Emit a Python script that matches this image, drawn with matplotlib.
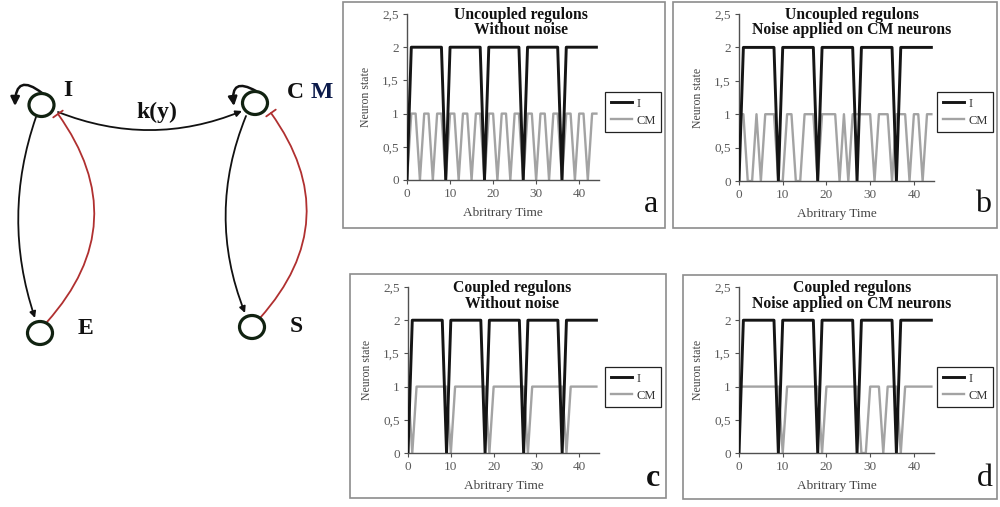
import matplotlib
matplotlib.use('Agg')
import matplotlib.pyplot as plt
from matplotlib.patches import Rectangle, Ellipse, FancyArrowPatch

# ---------------- data ----------------
time = [0, 1, 2, 3, 4, 5, 6, 7, 8, 9, 10, 11, 12, 13, 14, 15, 16, 17, 18, 19, 20, 21,
        22, 23, 24, 25, 26, 27, 28, 29, 30, 31, 32, 33, 34, 35, 36, 37, 38, 39, 40, 41, 42, 43, 44]

I_state = [0, 2, 2, 2, 2, 2, 2, 2, 2, 0, 2, 2, 2, 2, 2, 2, 2, 2, 0, 2, 2, 2,
           2, 2, 2, 2, 2, 0, 2, 2, 2, 2, 2, 2, 2, 2, 0, 2, 2, 2, 2, 2, 2, 2, 2]

cm_a = [0, 1, 1, 0, 1, 1, 0, 1, 1, 0, 1, 1, 0, 1, 1, 0, 1, 1, 0, 1, 1, 0,
        1, 1, 0, 1, 1, 0, 1, 1, 0, 1, 1, 0, 1, 1, 0, 1, 1, 0, 1, 1, 0, 1, 1]

cm_b = [1, 1, 0, 0, 1, 0, 1, 1, 1, 0, 0, 1, 1, 0, 0, 1, 1, 1, 0, 1, 1, 1,
        1, 0, 1, 0, 1, 1, 1, 1, 1, 0, 1, 1, 1, 0, 1, 1, 1, 0, 1, 1, 0, 1, 1]

cm_c = [1, 0, 1, 1, 1, 1, 1, 1, 1, 1, 0, 1, 1, 1, 1, 1, 1, 1, 1, 0, 1, 1,
        1, 1, 1, 1, 1, 1, 0, 1, 1, 1, 1, 1, 1, 1, 1, 0, 1, 1, 1, 1, 1, 1, 1]

cm_d = [1, 1, 1, 1, 1, 1, 1, 1, 1, 1, 0, 1, 1, 1, 1, 1, 1, 1, 1, 0, 1, 1,
        1, 1, 1, 1, 1, 1, 0, 0, 1, 1, 1, 0, 1, 1, 1, 0, 1, 1, 1, 1, 1, 1, 1]

titles = ["Uncoupled regulons\nWithout noise",
          "Uncoupled regulons\nNoise applied on CM neurons",
          "Coupled regulons\nWithout noise",
          "Coupled regulons\nNoise applied on CM neurons"]
letters = ["a", "b", "c", "d"]
series_labels = ["I", "CM"]
x_ticks = [0, 10, 20, 30, 40]
y_ticks = [0, 0.5, 1, 1.5, 2, 2.5]
y_tick_labels = ["0", "0,5", "1", "1,5", "2", "2,5"]
x_label = "Abritrary Time"
y_label = "Neuron state"

# ---------------- figure ----------------
W, H = 1000, 507
fig = plt.figure(figsize=(W / 100, H / 100), dpi=100)
SERIF = ["Liberation Serif", "DejaVu Serif"]

bg = fig.add_axes([0, 0, 1, 1])
bg.set_xlim(0, W)
bg.set_ylim(H, 0)
bg.axis('off')


def fpos(x0, x1, y0, y1):
    return [x0 / W, 1 - y1 / H, (x1 - x0) / W, (y1 - y0) / H]


layout = [
    dict(frame=(343, 2, 665, 228), ax=(407, 599, 14, 180), leg=(605, 92), tx=521, ty=(15, 30),
         letter_xy=(651, 205), bold=False),
    dict(frame=(673, 2, 997, 228), ax=(739, 934, 14, 181), leg=(937, 92), tx=852, ty=(15, 30),
         letter_xy=(983, 205), bold=False),
    dict(frame=(350, 274, 666, 498), ax=(408, 599, 287, 453), leg=(605, 367), tx=512, ty=(288, 304),
         letter_xy=(653, 479), bold=True),
    dict(frame=(683, 275, 997, 499), ax=(739, 934, 287, 453), leg=(937, 367), tx=852, ty=(288, 304),
         letter_xy=(985, 479), bold=False),
]
cms = [cm_a, cm_b, cm_c, cm_d]

for i, L in enumerate(layout):
    fx0, fy0, fx1, fy1 = L['frame']
    bg.add_patch(Rectangle((fx0, fy0), fx1 - fx0, fy1 - fy0, fill=False,
                           edgecolor='#8c8c8c', lw=1.2))
    ax = fig.add_axes(fpos(*L['ax']))
    ax.patch.set_alpha(0)
    l1, = ax.plot(time, I_state, color='#151515', lw=2.1, label=series_labels[0], zorder=3)
    l2, = ax.plot(time, cms[i], color='#a3a3a3', lw=1.7, label=series_labels[1], zorder=2)
    ax.set_xlim(0, 44.6)
    ax.set_ylim(0, 2.5)
    ax.set_xticks(x_ticks)
    ax.set_yticks(y_ticks)
    ax.set_yticklabels(y_tick_labels)
    for s in ['top', 'right']:
        ax.spines[s].set_visible(False)
    for s in ['left', 'bottom']:
        ax.spines[s].set_color('#505050')
        ax.spines[s].set_linewidth(1.0)
    ax.tick_params(axis='both', direction='out', length=3, width=0.8, color='#505050',
                   labelcolor='#5a5a5a', labelsize=9.5, pad=3)
    for lab in ax.get_xticklabels() + ax.get_yticklabels():
        lab.set_family(SERIF)
    ax.set_xlabel(x_label, family=SERIF, fontsize=9.5, color='#444444', labelpad=5)
    ax.set_ylabel(y_label, family=SERIF, fontsize=8.5, color='#444444', labelpad=7)
    # title lines
    t1, t2 = titles[i].split("\n")
    bg.text(L['tx'], L['ty'][0], t1, ha='center', va='center', family=SERIF,
            fontweight='bold', fontsize=11.3, color='#111111')
    bg.text(L['tx'], L['ty'][1], t2, ha='center', va='center', family=SERIF,
            fontweight='bold', fontsize=11.3, color='#111111')
    # legend
    lx, ly = L['leg']
    leg = ax.legend(handles=[l1, l2], loc='upper left',
                    bbox_to_anchor=(lx / W, 1 - ly / H), bbox_transform=fig.transFigure,
                    borderaxespad=0, frameon=True, fancybox=False, framealpha=1,
                    edgecolor='#222222', prop={'family': SERIF, 'size': 9},
                    handlelength=1.7, handletextpad=0.35, borderpad=0.45, labelspacing=0.4)
    leg.get_frame().set_linewidth(0.9)
    for t in leg.get_texts():
        t.set_color('#333333')
    # panel letter
    bg.text(L['letter_xy'][0], L['letter_xy'][1], letters[i], ha='center', va='center',
            family=SERIF, fontsize=23, fontweight='bold' if L['bold'] else 'normal',
            color='#111111')

# ---------------- network diagram ----------------
node_ec = '#112211'
nodes = {'I': (41.5, 105), 'E': (40, 333), 'CM': (255, 103), 'S': (252, 327)}
for name, (cx, cy) in nodes.items():
    bg.add_patch(Ellipse((cx, cy), 25, 23, facecolor='white', edgecolor=node_ec, lw=2.3, zorder=5))

label_kw = dict(family=SERIF, fontweight='bold', fontsize=17, ha='left', va='center', color='#111111')
bg.text(63, 90, "I", **label_kw)
bg.text(78, 328, "E", **label_kw)
bg.text(287, 92, "C", **label_kw)
bg.text(311, 92, "M", family=SERIF, fontweight='bold', fontsize=17, ha='left', va='center', color='#0b1a4a')
bg.text(290, 326, "S", **label_kw)
bg.text(157, 112, "k(y)", family=SERIF, fontweight='bold', fontsize=17, ha='center', va='center',
        color='#111111')


def edge(a, b, rad, color, style, lw=1.3, ms=10):
    p = FancyArrowPatch(a, b, connectionstyle=f"arc3,rad={rad}", arrowstyle=style,
                        color=color, lw=lw, mutation_scale=ms, shrinkA=0, shrinkB=0, zorder=4)
    bg.add_patch(p)


# activations (black)
edge((36, 117), (35, 318), 0.17, '#111111', '-|>', ms=9)
edge((246, 116), (245, 313), 0.20, '#111111', '-|>', ms=9)
edge((58, 112), (242, 111), 0.20, '#111111', '-|>', ms=9)
# self loops
edge((42, 93), (15, 106), 1.0, '#111111', '-|>', lw=1.8, ms=13)
edge((256, 91), (234, 106), 1.0, '#111111', '-|>', lw=1.8, ms=13)
# inhibitions (red)
edge((47, 322), (58, 114), 0.40, '#b03030', '-[,widthB=0.35,lengthB=0', lw=1.3, ms=12)
edge((260, 318), (271, 113), 0.40, '#b03030', '-[,widthB=0.35,lengthB=0', lw=1.3, ms=12)

fig.savefig('out.png', dpi=100)
